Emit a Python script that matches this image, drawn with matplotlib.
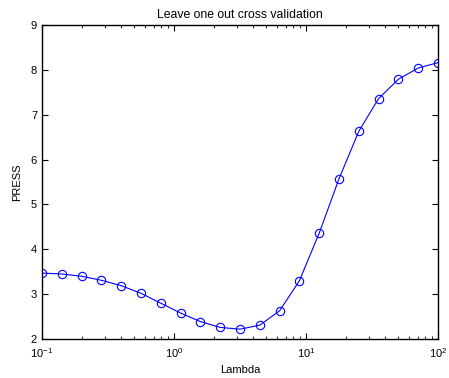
import numpy as np
import matplotlib
matplotlib.use('Agg')
import matplotlib.pyplot as plt

# lambda values and leave-one-out PRESS
lam = [0.1, 0.1413, 0.1995, 0.2818, 0.3981, 0.5623, 0.7943, 1.122, 1.585, 2.239,
       3.162, 4.467, 6.310, 8.913, 12.59, 17.78, 25.12, 35.48, 50.12, 70.79, 100.0]
press = [3.47, 3.45, 3.40, 3.31, 3.19, 3.02, 2.80, 2.58, 2.39, 2.26,
         2.22, 2.31, 2.63, 3.30, 4.36, 5.57, 6.63, 7.36, 7.79, 8.04, 8.16]

plt.rcParams['font.family'] = ['Liberation Sans', 'DejaVu Sans']
plt.rcParams['font.size'] = 8

fig = plt.figure(figsize=(4.49, 3.78), dpi=100)
ax = fig.add_axes([0.0935, 0.103, 0.882, 0.831])
ax.plot(lam, press, 'b-o', markerfacecolor='none', markersize=6, linewidth=0.8,
        markeredgewidth=0.8)
ax.set_xscale('log')
ax.set_xlim(0.1, 100)
ax.set_ylim(2, 9)
ax.set_yticks([2, 3, 4, 5, 6, 7, 8, 9])
ax.tick_params(which='both', direction='in', top=True, right=True)
ax.tick_params(which='major', length=4)
ax.tick_params(which='minor', length=2)
ax.tick_params(axis='x', pad=5)
for s in ax.spines.values():
    s.set_linewidth(1.0)
ax.set_title('Leave one out cross validation', fontsize=8.8, pad=5)
ax.set_xlabel('Lambda', labelpad=4)
ax.set_ylabel('PRESS', labelpad=6)
fig.savefig('out.png', dpi=100)
